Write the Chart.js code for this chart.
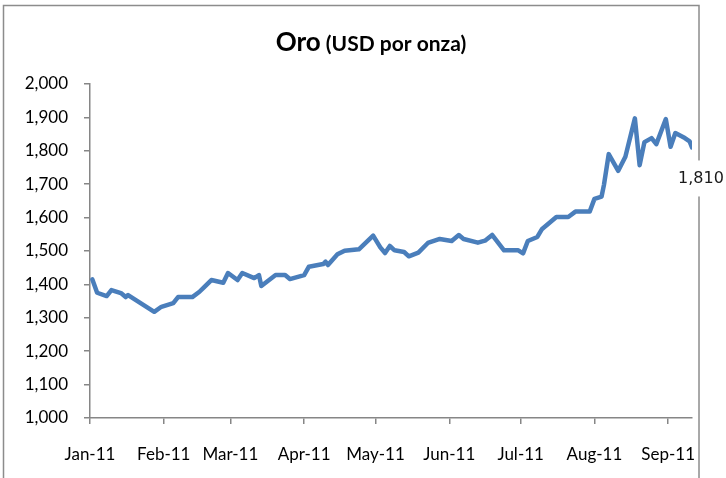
<!DOCTYPE html>
<html>
<head>
<meta charset="utf-8">
<script src="https://cdn.jsdelivr.net/npm/chart.js@4"></script>
<style>
  html, body { margin: 0; padding: 0; background: #fff; }
</style>
</head>
<body>
<canvas id="oroChart" width="726" height="478"></canvas>
<script>
// dia del año 2011 (0 = 1 ene) y precio del oro en USD por onza
var days = [1, 3, 7, 9, 13, 15, 16, 27, 30, 35, 37, 43, 46, 48, 51, 56, 58, 62, 64, 69,
  71, 72, 78, 82, 84, 90, 92, 98, 99, 100, 104, 107, 113, 119, 122, 124, 126, 128, 132, 134,
  138, 142, 147, 152, 155, 157, 163, 166, 169, 174, 180, 182, 184, 188, 190, 196, 201, 204, 210, 212,
  215, 216, 218, 222, 225, 229, 231, 233, 236, 238, 242, 244, 246, 250, 252, 253];
var prices = [1415, 1375, 1365, 1383, 1374, 1362, 1368, 1318, 1333, 1344, 1362, 1362, 1378, 1392, 1413, 1405, 1434, 1413, 1434, 1419,
  1428, 1395, 1428, 1428, 1416, 1428, 1453, 1461, 1468, 1458, 1490, 1501, 1505, 1546, 1511, 1494, 1515, 1502, 1497, 1484,
  1495, 1524, 1536, 1530, 1548, 1536, 1525, 1531, 1548, 1502, 1502, 1493, 1530, 1542, 1566, 1602, 1602, 1618, 1618, 1656,
  1663, 1698, 1790, 1740, 1782, 1897, 1757, 1826, 1838, 1820, 1895, 1812, 1853, 1838, 1828, 1810];
var monthTicks = [0, 31, 59, 90, 120, 151, 181, 212, 243];
var monthLabels = ['Jan-11', 'Feb-11', 'Mar-11', 'Apr-11', 'May-11', 'Jun-11', 'Jul-11', 'Aug-11', 'Sep-11'];

var axisColor = '#868686';
var tickFont = { family: 'Lato', size: 17 };

var framePlugin = {
  id: 'frameAndTitle',
  beforeDraw: function(chart) {
    var ctx = chart.ctx;
    ctx.save();
    ctx.fillStyle = '#fff';
    ctx.fillRect(0, 0, chart.width, chart.height);
    ctx.strokeStyle = '#8c8c8c';
    ctx.lineWidth = 1.5;
    ctx.strokeRect(3.5, 5.5, 695.5, 490);

    // titulo en dos tamaños
    var big = 'Oro', small = ' (USD por onza)';
    ctx.fillStyle = '#000';
    ctx.textBaseline = 'alphabetic';
    ctx.font = 'bold 26px Lato';
    var w1 = ctx.measureText(big).width;
    ctx.font = 'bold 21px Lato';
    var w2 = ctx.measureText(small).width;
    var x0 = 371 - (w1 + w2) / 2;
    ctx.font = 'bold 26px Lato';
    ctx.fillText(big, x0, 51);
    ctx.font = 'bold 21px Lato';
    ctx.fillText(small, x0 + w1, 51);
    ctx.restore();
  },
  afterDatasetsDraw: function(chart) {
    var ctx = chart.ctx;
    var meta = chart.getDatasetMeta(0);
    var pt = meta.data[meta.data.length - 1];
    var text = prices[prices.length - 1].toLocaleString('en-US');
    ctx.save();
    ctx.font = '16px "DejaVu Sans"';
    var w = ctx.measureText(text).width;
    var cx = pt.x + 9, cy = pt.y + 31;
    ctx.fillStyle = '#fff';
    ctx.fillRect(cx - w / 2 - 5, cy - 18, w + 10, 36);
    ctx.fillStyle = '#1a1a1a';
    ctx.textAlign = 'center';
    ctx.textBaseline = 'middle';
    ctx.fillText(text, cx, cy);
    ctx.restore();
  }
};

var ctx = document.getElementById('oroChart').getContext('2d');
var oroChart = new Chart(ctx, {
  type: 'line',
  data: {
    datasets: [{
      label: 'Oro',
      data: days.map(function(d, i) { return { x: d, y: prices[i] }; }),
      borderColor: '#4A7EBB',
      borderWidth: 4.5,
      pointRadius: 0,
      tension: 0,
      borderJoinStyle: 'round',
      borderCapStyle: 'round'
    }]
  },
  options: {
    responsive: false,
    animation: false,
    devicePixelRatio: 1,
    layout: { padding: { top: 84, right: 34, left: 0, bottom: 0 } },
    plugins: {
      legend: { display: false },
      tooltip: { enabled: false }
    },
    scales: {
      x: {
        type: 'linear',
        min: 0,
        max: 253,
        afterBuildTicks: function(scale) {
          scale.ticks = monthTicks.map(function(v) { return { value: v }; });
        },
        afterFit: function(scale) { scale.height = 60; },
        grid: { drawOnChartArea: false, color: axisColor, tickLength: 6, lineWidth: 1.5 },
        border: { color: axisColor, width: 1.5 },
        ticks: {
          autoSkip: false,
          maxRotation: 0,
          padding: 20,
          color: '#000',
          font: tickFont,
          callback: function(value) { return monthLabels[monthTicks.indexOf(value)]; }
        }
      },
      y: {
        min: 1000,
        max: 2000,
        afterFit: function(scale) { scale.width = 90; },
        grid: { drawOnChartArea: false, color: axisColor, tickLength: 6, lineWidth: 1.5 },
        border: { color: axisColor, width: 1.5 },
        ticks: {
          stepSize: 100,
          padding: 16,
          color: '#000',
          font: tickFont,
          callback: function(value) { return value.toLocaleString('en-US'); }
        }
      }
    }
  },
  plugins: [framePlugin]
});
</script>
</body>
</html>
